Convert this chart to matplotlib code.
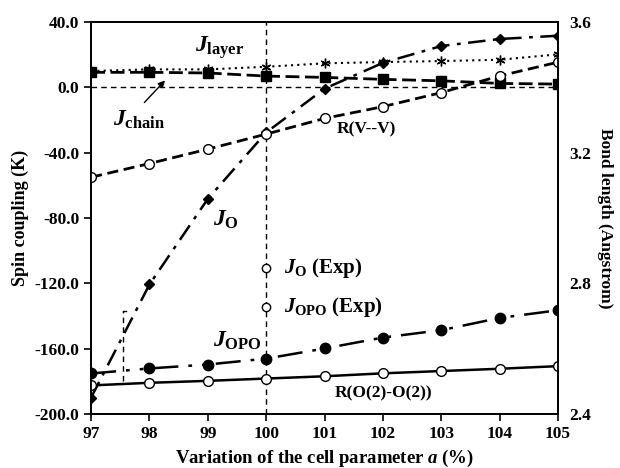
import matplotlib
matplotlib.use("Agg")
import matplotlib.pyplot as plt
from matplotlib.ticker import FormatStrFormatter

plt.rcParams['font.family'] = 'Liberation Serif'
plt.rcParams['font.weight'] = 'bold'
plt.rcParams['mathtext.fontset'] = 'custom'
plt.rcParams['mathtext.rm'] = 'Liberation Serif:bold'
plt.rcParams['mathtext.it'] = 'Liberation Serif:italic:bold'
plt.rcParams['mathtext.bf'] = 'Liberation Serif:bold'

# cell parameter variation (%)
a_pct = [97, 98, 99, 100, 101, 102, 103, 104, 105]

# spin couplings (K)
j_layer = [10.0, 11.0, 11.0, 12.6, 14.7, 15.5, 16.1, 16.9, 20.2]
j_chain = [9.2, 9.2, 8.8, 6.9, 6.1, 4.9, 4.0, 2.4, 2.0]
j_o = [-189.8, -120.6, -68.2, -27.6, -0.8, 15.0, 25.3, 29.6, 31.6]
j_opo = [-175.1, -172.0, -169.6, -166.0, -159.8, -153.1, -148.6, -141.1, -136.4]

# experimental values at 100 %
exp_x = [100, 100]
exp_j = [-110.8, -134.3]

# bond lengths (Angstrom)
r_vv = [3.125, 3.167, 3.211, 3.257, 3.305, 3.341, 3.384, 3.435, 3.477]
r_oo = [2.488, 2.496, 2.502, 2.509, 2.516, 2.525, 2.532, 2.539, 2.547]

fig = plt.figure(figsize=(6.2, 4.68), dpi=100)
ax = fig.add_axes([0.147, 0.115, 0.753, 0.838])
ax2 = ax.twinx()

# reference lines
ax.axhline(0, color='k', ls=(0, (4, 3)), lw=1.0, zorder=1)
ax.axvline(100, color='k', ls=(0, (4, 3)), lw=1.0, zorder=1)
ax.plot([97.55, 97.55], [-180, -137], color='k', ls=(0, (4, 3)), lw=1.0)
ax.plot([97.55, 97.6], [-137, -137], color='k', lw=1.0)

ax.plot(a_pct, j_layer, color='k', ls=(0, (1, 2)), lw=1.5,
        marker=(6, 2, 0), ms=7, mew=1.0)
ax.plot(a_pct, j_chain, color='k', ls=(0, (5, 2)), lw=2.0,
        marker='s', ms=7)
ax.plot(a_pct, j_o, color='k', ls=(0, (7, 3, 1.5, 3)), lw=1.8,
        marker='D', ms=5.5)
ax.plot(a_pct, j_opo, color='k', ls=(0, (10, 4, 1.5, 4, 1.5, 4)), lw=1.8,
        marker='o', ms=7.5)
ax.plot(exp_x, exp_j, ls='none', marker='o', ms=6, mfc='white', mec='k', mew=1.0)

ax2.plot(a_pct, r_vv, color='k', ls=(0, (4, 2)), lw=2.0,
         marker='o', ms=7, mfc='white', mec='k', mew=1.0)
ax2.plot(a_pct, r_oo, color='k', ls='-', lw=1.8,
         marker='o', ms=7, mfc='white', mec='k', mew=1.0)

ax.set_xlim(97, 105)
ax.set_ylim(-200, 40)
ax2.set_ylim(2.4, 3.6)
ax.set_xticks(a_pct)
ax.set_yticks([-200, -160, -120, -80, -40, 0, 40])
ax2.set_yticks([2.4, 2.8, 3.2, 3.6])
ax.yaxis.set_major_formatter(FormatStrFormatter('%.1f'))
ax2.yaxis.set_major_formatter(FormatStrFormatter('%.1f'))

for a in (ax, ax2):
    a.tick_params(direction='out', length=5, width=1.2, labelsize=12.5)
    for s in a.spines.values():
        s.set_linewidth(1.3)
ax2.tick_params(axis='y', length=0, pad=8)

ax.set_xlabel(r'Variation of the cell parameter $a$ (%)', fontsize=13.5, fontweight='bold')
ax.set_ylabel('Spin coupling (K)', fontsize=13, fontweight='bold', labelpad=4)
ax2.set_ylabel('Bond length (Angstrom)', fontsize=12.5, fontweight='bold',
               rotation=270, labelpad=16)

fs = 17
ax.text(98.78, 24.5, r'$J_{\rm layer}$', fontsize=fs, va='center')
ax.text(97.38, -20, r'$J_{\rm chain}$', fontsize=fs, va='center')
ax.text(99.09, -81, r'$J_{\rm O}$', fontsize=fs, va='center')
ax.text(99.09, -155, r'$J_{\rm OPO}$', fontsize=fs, va='center')
ax.text(100.3, -110.8, r'$J_{\rm O}$ (Exp)', fontsize=15, va='center')
ax.text(100.3, -134.3, r'$J_{\rm OPO}$ (Exp)', fontsize=15, va='center')
ax.text(101.2, -26, 'R(V--V)', fontsize=12.5, va='center')
ax.text(101.18, -187, 'R(O(2)-O(2))', fontsize=12.5, va='center')
ax.annotate('', xy=(98.3, 5.5), xytext=(97.88, -10.5),
            arrowprops=dict(arrowstyle='-|>', color='k', lw=1.0, mutation_scale=10))

fig.savefig('out.png', dpi=100)
